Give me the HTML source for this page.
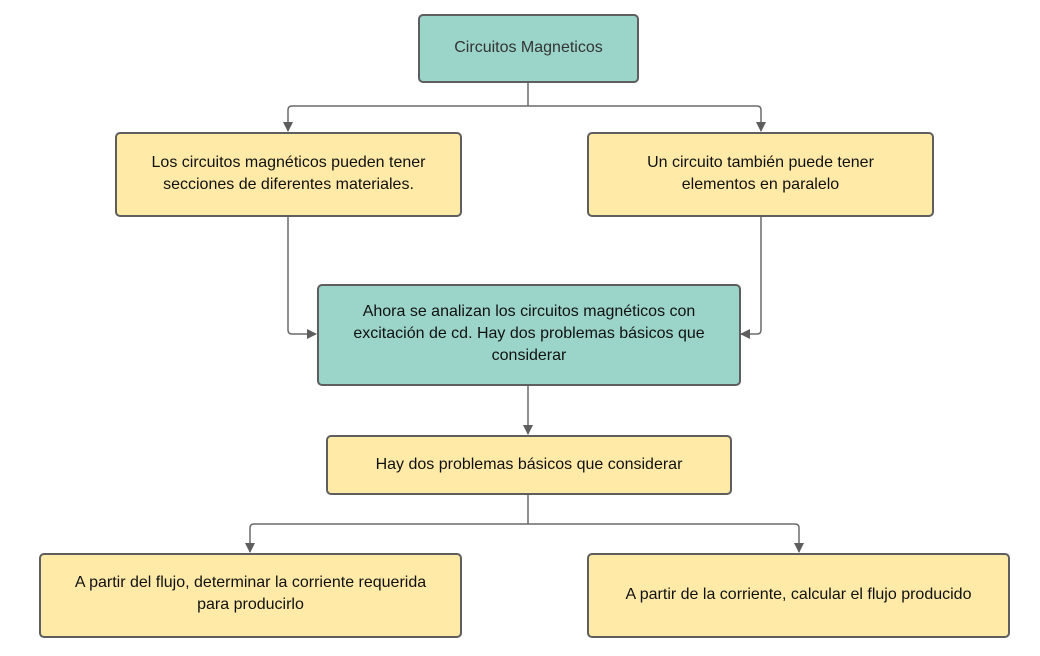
<!DOCTYPE html>
<html><head><style>
body{margin:0;width:1040px;height:656px;background:#fff;position:relative;overflow:hidden;font-family:"Liberation Sans",sans-serif;}
.b{position:absolute;box-sizing:border-box;border:2px solid #5e5e5e;border-radius:5px;display:flex;align-items:center;justify-content:center;text-align:center;font-size:16px;line-height:22px;color:#111;}
.t{background:#9bd5ca}.y{background:#ffeaa8}
svg{position:absolute;left:0;top:0}
</style></head><body>
<svg width="1040" height="656">
<defs><marker id="a" markerWidth="10" markerHeight="10" refX="9" refY="5" orient="auto" markerUnits="userSpaceOnUse"><path d="M0,0 L10,5 L0,10 z" fill="#5e5e5e"/></marker></defs>
<g stroke="#6a6a6a" stroke-width="1.5" fill="none">
<path d="M528,82 V106 M288,110 Q288,106 292,106 H757 Q761,106 761,110"/>
<path d="M288,110 V131" marker-end="url(#a)"/>
<path d="M761,110 V131" marker-end="url(#a)"/>
<path d="M288,216 V330 Q288,334 292,334"/>
<path d="M292,334 H316" marker-end="url(#a)"/>
<path d="M761,216 V330 Q761,334 757,334"/>
<path d="M757,334 H741" marker-end="url(#a)"/>
<path d="M528,385 V434" marker-end="url(#a)"/>
<path d="M528,494 V524 M250,528 Q250,524 254,524 H795 Q799,524 799,528"/>
<path d="M250,528 V552" marker-end="url(#a)"/>
<path d="M799,528 V552" marker-end="url(#a)"/>
</g>
</svg>
<div class="b t" style="left:418px;top:14px;width:221px;height:69px;color:#333;padding-bottom:2px">Circuitos Magneticos</div>
<div class="b y" style="left:115px;top:132px;width:347px;height:85px;padding-bottom:2px">Los circuitos magnéticos pueden tener<br>secciones de diferentes materiales.</div>
<div class="b y" style="left:587px;top:132px;width:347px;height:85px;padding-bottom:2px">Un circuito también puede tener<br>elementos en paralelo</div>
<div class="b t" style="left:317px;top:284px;width:424px;height:102px;padding-bottom:2px">Ahora se analizan los circuitos magnéticos con<br>excitación de cd. Hay dos problemas básicos que<br>considerar</div>
<div class="b y" style="left:326px;top:435px;width:406px;height:60px">Hay dos problemas básicos que considerar</div>
<div class="b y" style="left:39px;top:553px;width:423px;height:85px;padding-bottom:4px">A partir del flujo, determinar la corriente requerida<br>para producirlo</div>
<div class="b y" style="left:587px;top:553px;width:423px;height:85px;padding-bottom:2px">A partir de la corriente, calcular el flujo producido</div>
</body></html>
